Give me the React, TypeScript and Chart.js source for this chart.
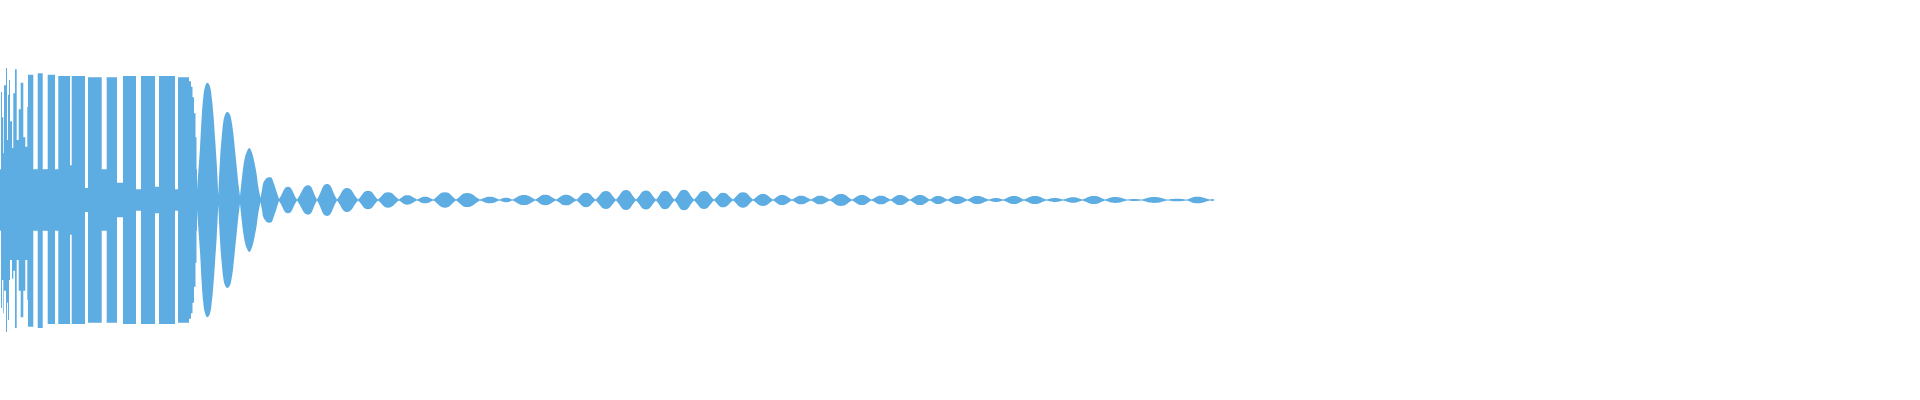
import React, { useEffect, useRef } from "react";
import { Chart, registerables } from "chart.js";

Chart.register(...registerables);

// Early part of the waveform (flat-topped, dense section): step start positions and envelope heights
const earlyX = [
  0, 1, 2, 3.3, 4, 6, 7, 8, 9, 10, 12, 13.3, 15, 16.7, 18.7, 20.7, 23.3, 25.3, 27.3,
  28, 33.3, 37.7, 42.7, 47.7, 55, 58.3, 70, 71.7, 85, 88, 101.7, 106.7, 117, 123, 136,
  141, 155, 159, 175, 178, 189, 191, 192.5, 194, 195.5, 196.5, 197,
];
const earlyTop = [
  0.23, 0.81, 0.62, 0.35, 0.86, 0.99, 0.45, 0.79, 0.9, 0.59, 0.39, 0.8, 0.98, 0.45, 0.68, 0.88, 0.47, 0.4, 0.7,
  0.94, 0.23, 0.95, 0.23, 0.94, 0.23, 0.93, 0.26, 0.93, 0.09, 0.92, 0.23, 0.92, 0.13, 0.93, 0.08,
  0.93, 0.1, 0.93, 0.08, 0.92, 0.89, 0.85, 0.77, 0.65, 0.47, 0.23, 0.075,
];
const earlyBottom = [
  0.23, 0.81, 0.6, 0.85, 0.68, 0.99, 0.77, 0.9, 0.6, 0.45, 0.59, 0.53, 0.96, 0.45, 0.68, 0.88, 0.68, 0.45, 0.75,
  0.95, 0.23, 0.96, 0.23, 0.93, 0.23, 0.93, 0.26, 0.93, 0.09, 0.92, 0.23, 0.92, 0.13, 0.93, 0.08,
  0.93, 0.1, 0.93, 0.08, 0.92, 0.89, 0.85, 0.77, 0.65, 0.47, 0.23, 0.075,
];

// Large decaying lobes: envelope read at several positions per lobe
const bigX = [
  197, 200, 201.7, 203.3, 205, 207.3, 210, 211.7, 213.3, 215, 216.7,
  218.3, 220, 221.7, 223.3, 225, 227.3, 230, 231.7, 233.3, 235, 236.7, 238.3,
  240, 241.7, 243.3, 245, 246.7, 249.3, 251.7, 253.3, 255, 256.7, 258.3,
  260.5, 262, 263.3, 265, 266.7, 269, 271.7, 273.3, 275, 276.7, 279,
];
const bigAmp = [
  0.075, 0.39, 0.62, 0.77, 0.85, 0.88, 0.85, 0.77, 0.65, 0.47, 0.28,
  0.04, 0.3, 0.47, 0.585, 0.64, 0.66, 0.64, 0.585, 0.5, 0.375, 0.25, 0.13,
  0.03, 0.15, 0.25, 0.32, 0.36, 0.39, 0.36, 0.32, 0.26, 0.19, 0.1,
  0.015, 0.075, 0.13, 0.15, 0.165, 0.17, 0.165, 0.135, 0.1, 0.06, 0.008,
];

// Small decaying lobes: alternating node / peak positions and envelope amplitude
const smallX = [
  279, 288, 297, 308, 317, 327, 337, 347, 358, 368, 378, 388,
  399, 407, 417, 425, 433.5, 445, 456, 467, 480, 490, 499.5, 506, 512.5, 524, 535.5, 545, 556, 566,
  576.5, 586, 595.5, 606, 616, 626, 636, 646, 656, 665, 674.5, 684, 694, 704, 714, 723, 733, 743, 753,
  763, 773, 782, 792, 801, 811, 820, 830, 841, 852, 862, 871.5, 881, 890.5, 900, 910, 920, 930, 938,
  947.5, 957, 967.5, 977, 988.5, 996, 1003.5, 1014, 1024, 1035, 1046, 1055, 1063.5, 1073, 1082.5,
  1094, 1105, 1115, 1127, 1134, 1142, 1154, 1167, 1177, 1187, 1197, 1210, 1213, 1214,
];
const smallAmp = [
  0.008, 0.1, 0.004, 0.11, 0.004, 0.12, 0.004, 0.09, 0.004, 0.07, 0.004, 0.058,
  0.004, 0.035, 0.004, 0.025, 0.004, 0.058, 0.004, 0.053, 0.004, 0.025, 0.004, 0.017, 0.004, 0.038, 0.004, 0.039, 0.004, 0.04,
  0.004, 0.054, 0.004, 0.068, 0.004, 0.075, 0.004, 0.071, 0.004, 0.07, 0.004, 0.077, 0.004, 0.068, 0.004, 0.055, 0.004, 0.058, 0.004,
  0.045, 0.004, 0.038, 0.004, 0.032, 0.004, 0.032, 0.004, 0.045, 0.004, 0.038, 0.004, 0.032, 0.004, 0.038, 0.004, 0.038, 0.004, 0.03,
  0.004, 0.03, 0.004, 0.03, 0.004, 0.015, 0.004, 0.03, 0.004, 0.03, 0.004, 0.015, 0.004, 0.021, 0.004,
  0.03, 0.004, 0.022, 0.004, 0.008, 0.004, 0.022, 0.004, 0.01, 0.004, 0.025, 0.004, 0.008, 0.004,
];

const X_MIN = 0;
const X_MAX = 1920;
const Y_LIMIT = 1.5;
const WAVE_COLOR = "rgb(93, 173, 226)";

export default function App() {
  const canvasRef = useRef<HTMLCanvasElement | null>(null);

  useEffect(() => {
    const canvas = canvasRef.current;
    if (!canvas) return;

    const toPoints = (xs: number[], ys: number[], sign: number) =>
      xs.map((x, i) => ({ x, y: sign * ys[i] }));

    // Local minima (nodes) are repeated so the bezier curve meets them at a point (lens-shaped lobes)
    const toLobePoints = (xs: number[], ys: number[], sign: number) => {
      const pts: { x: number; y: number }[] = [];
      xs.forEach((x, i) => {
        const p = { x, y: sign * ys[i] };
        pts.push(p);
        if (i > 0 && i < xs.length - 1 && ys[i] < ys[i - 1] && ys[i] < ys[i + 1]) pts.push({ ...p });
      });
      return pts;
    };

    const base = {
      pointRadius: 0,
      borderWidth: 0,
      borderColor: "rgba(0,0,0,0)",
      backgroundColor: WAVE_COLOR,
    };

    const chart = new Chart(canvas, {
      type: "line",
      data: {
        datasets: [
          { ...base, data: toPoints(earlyX, earlyTop, 1), stepped: "before", fill: "+1" },
          { ...base, data: toPoints(earlyX, earlyBottom, -1), stepped: "before", fill: false },
          { ...base, data: toLobePoints(bigX, bigAmp, 1), tension: 0.4, fill: "+1" },
          { ...base, data: toLobePoints(bigX, bigAmp, -1), tension: 0.4, fill: false },
          { ...base, data: toLobePoints(smallX, smallAmp, 1), tension: 0.5, fill: "+1" },
          { ...base, data: toLobePoints(smallX, smallAmp, -1), tension: 0.5, fill: false },
        ],
      },
      options: {
        animation: false,
        responsive: false,
        layout: { padding: 0 },
        plugins: {
          legend: { display: false },
          tooltip: { enabled: false },
          filler: { propagate: false },
        },
        scales: {
          x: { type: "linear", min: X_MIN, max: X_MAX, display: false },
          y: { type: "linear", min: -Y_LIMIT, max: Y_LIMIT, display: false },
        },
      },
    });

    return () => chart.destroy();
  }, []);

  return (
    <div style={{ position: "absolute", left: 0, top: 0, width: 1920, height: 400, background: "#fff" }}>
      <canvas ref={canvasRef} width={1920} height={400} style={{ display: "block" }} />
    </div>
  );
}
